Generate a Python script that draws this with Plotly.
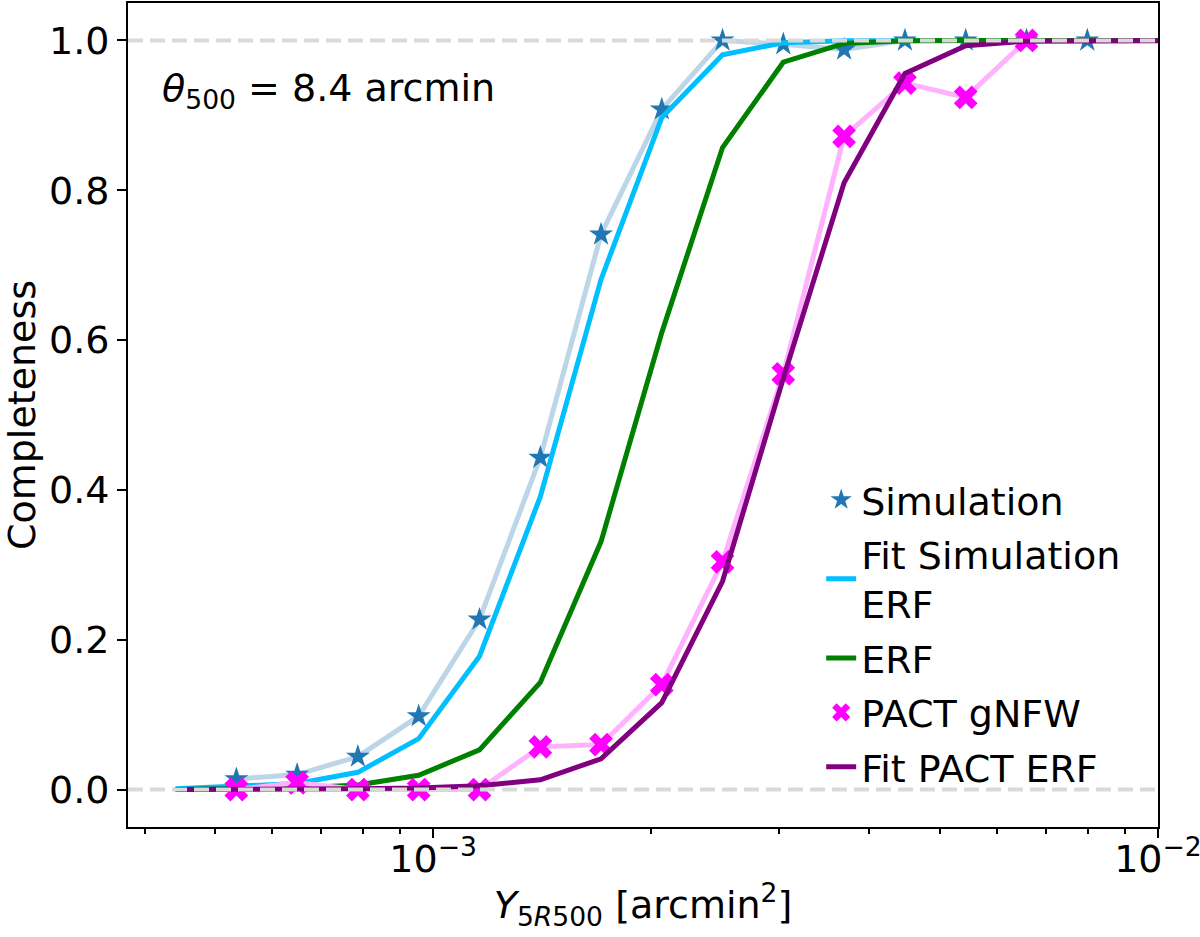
import plotly.graph_objects as go

# x grid (Y_5R500, arcmin^2) shared by data and fits
y5r500 = [4.413e-4, 5.354e-4, 6.494e-4, 7.876e-4, 9.554e-4, 1.159e-3, 1.406e-3,
          1.705e-3, 2.068e-3, 2.508e-3, 3.042e-3, 3.690e-3, 4.477e-3, 5.430e-3,
          6.587e-3, 7.990e-3, 9.693e-3, 1.176e-2]

# Simulation completeness (points 1..15)
sim_x = y5r500[1:16]
sim_y = [0.014, 0.020, 0.044, 0.098, 0.227, 0.443, 0.741, 0.908, 1.0, 0.995,
         0.988, 1.0, 1.0, 1.0, 1.0]

# Fit to simulation with ERF
fit_sim_y = [0.001, 0.004, 0.008, 0.023, 0.068, 0.178, 0.391, 0.681, 0.897,
             0.981, 0.997, 0.9995, 1.0, 1.0, 1.0, 1.0, 1.0, 1.0]

# ERF model
erf_y = [0.0, 0.0005, 0.002, 0.006, 0.019, 0.053, 0.143, 0.331, 0.610, 0.857,
         0.971, 0.996, 0.9995, 1.0, 1.0, 1.0, 1.0, 1.0]

# PACT gNFW completeness (points 1..14)
pact_x = y5r500[1:15]
pact_y = [0.0, 0.009, 0.0, 0.0, 0.0, 0.057, 0.060, 0.140, 0.304, 0.555, 0.872,
          0.943, 0.924, 1.0]

# Fit to PACT with ERF
fit_pact_y = [0.0, 0.0, 0.0, 0.001, 0.002, 0.005, 0.013, 0.041, 0.116, 0.278,
              0.549, 0.810, 0.956, 0.993, 0.999, 1.0, 1.0, 1.0]

x_ticks = [1e-3, 1e-2]
x_ticktext = ["10<sup>−3</sup>", "10<sup>−2</sup>"]
x_minor = [4e-4, 5e-4, 6e-4, 7e-4, 8e-4, 9e-4,
           2e-3, 3e-3, 4e-3, 5e-3, 6e-3, 7e-3, 8e-3, 9e-3]
y_ticks = [0.0, 0.2, 0.4, 0.6, 0.8, 1.0]

FONT = "DejaVu Sans"
FS = 38

fig = go.Figure()

fig.add_trace(go.Scatter(x=sim_x, y=sim_y, mode="lines",
                         line=dict(color="#bcd6e8", width=5),
                         showlegend=False, hoverinfo="skip"))
fig.add_trace(go.Scatter(x=sim_x, y=sim_y, mode="markers", name="Simulation",
                         marker=dict(symbol="star", size=18, color="#1f77b4",
                                     line=dict(width=0)),
                         legendgroup="a"))
fig.add_trace(go.Scatter(x=y5r500, y=fit_sim_y, mode="lines",
                         name="Fit Simulation<br>ERF",
                         line=dict(color="#00bfff", width=5), legendgroup="b"))
fig.add_trace(go.Scatter(x=y5r500, y=erf_y, mode="lines", name="ERF",
                         line=dict(color="#008000", width=5), legendgroup="c"))
fig.add_trace(go.Scatter(x=pact_x, y=pact_y, mode="lines",
                         line=dict(color="#ffb3ff", width=5),
                         showlegend=False, hoverinfo="skip"))
fig.add_trace(go.Scatter(x=pact_x, y=pact_y, mode="markers", name="PACT gNFW",
                         marker=dict(symbol="x", size=21, color="#ff00ff",
                                     line=dict(width=0)),
                         legendgroup="d"))
fig.add_trace(go.Scatter(x=y5r500, y=fit_pact_y, mode="lines", name="Fit PACT ERF",
                         line=dict(color="#800080", width=5), legendgroup="e"))

for yv in (0.0, 1.0):
    fig.add_shape(type="line", xref="paper", x0=0, x1=1, yref="y", y0=yv, y1=yv,
                  line=dict(color="#d9d9d9", width=4, dash="15px,7px"),
                  layer="above")

fig.add_annotation(xref="paper", yref="paper", x=0.031, y=0.894,
                   xanchor="left", yanchor="middle", showarrow=False,
                   text="<i>θ</i><sub>500</sub> = 8.4 arcmin",
                   font=dict(family=FONT, size=FS, color="black"))

fig.update_layout(
    width=1200, height=937,
    margin=dict(l=128, r=42, t=3, b=110, autoexpand=False),
    paper_bgcolor="white", plot_bgcolor="white",
    font=dict(family=FONT, size=FS, color="black"),
    legend=dict(x=0.673, y=0.435, xanchor="left", yanchor="top",
                bgcolor="rgba(0,0,0,0)", font=dict(family=FONT, size=FS),
                traceorder="grouped", tracegroupgap=2),
    xaxis=dict(type="log", range=[-3.4208, -1.99995], showgrid=False, zeroline=False,
               automargin=False,
               tickmode="array", tickvals=x_ticks, ticktext=x_ticktext,
               ticks="outside", ticklen=9, tickwidth=2, tickcolor="black",
               showline=True, linecolor="black", linewidth=2, mirror=True,
               tickfont=dict(family=FONT, size=FS), ticklabelstandoff=-12,
               ticklabeloverflow="allow",
               minor=dict(tickmode="array", tickvals=x_minor, ticks="outside",
                          ticklen=5, tickwidth=1.5, tickcolor="black", showgrid=False),
               title=dict(text="<i>Y</i><sub>5<i>R</i>500</sub> [arcmin<sup>2</sup>]",
                          font=dict(family=FONT, size=FS), standoff=12)),
    yaxis=dict(range=[-0.05, 1.05], showgrid=False, zeroline=False,
               automargin=False,
               tickmode="array", tickvals=y_ticks, tickformat=".1f",
               ticks="outside", ticklen=9, tickwidth=2, tickcolor="black",
               showline=True, linecolor="black", linewidth=2, mirror=True,
               tickfont=dict(family=FONT, size=FS),
               title=dict(text="Completeness", font=dict(family=FONT, size=FS),
                          standoff=6)),
)

fig.write_html("out.html", config={"displayModeBar": False},
               post_script="document.body.style.margin='0';document.body.style.overflow='hidden';")
